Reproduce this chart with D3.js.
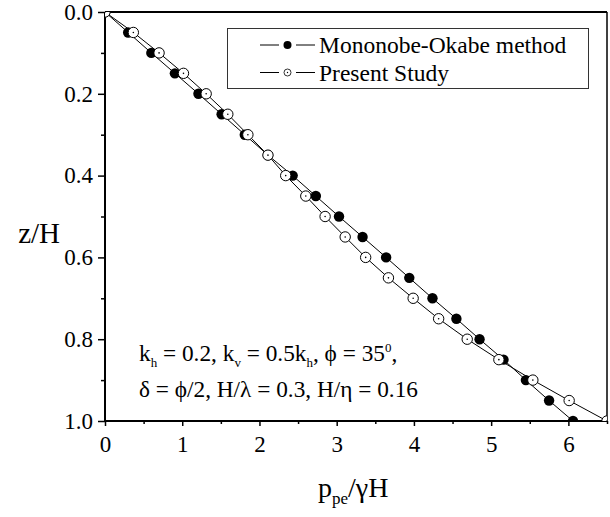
<!DOCTYPE html>
<html>
<head>
<meta charset="utf-8">
<script src="https://cdn.jsdelivr.net/npm/d3@7"></script>
<style>
  body { margin: 0; background: #fff; }
  svg { display: block; }
  svg text { font-family: "Liberation Serif", "DejaVu Serif", serif; }
</style>
</head>
<body>
<div id="main"></div>
<script>
'use strict';

// depth ratio z/H (same for both series)
var zLevels = [0, 0.05, 0.1, 0.15, 0.2, 0.25, 0.3, 0.35, 0.4, 0.45, 0.5,
               0.55, 0.6, 0.65, 0.7, 0.75, 0.8, 0.85, 0.9, 0.95, 1.0];

// p_pe / gamma H
var moValues = [0, 0.30, 0.60, 0.905, 1.21, 1.51, 1.81, 2.11, 2.43, 2.73, 3.03,
                3.335, 3.64, 3.94, 4.24, 4.55, 4.85, 5.16, 5.45, 5.75, 6.06];
var psValues = [0, 0.367, 0.70, 1.016, 1.31, 1.59, 1.85, 2.11, 2.34, 2.60, 2.85,
                3.11, 3.375, 3.67, 3.99, 4.32, 4.69, 5.10, 5.54, 6.01, 6.5];

var seriesNames = ['Mononobe-Okabe method', 'Present Study'];

var xMajor = [0, 1, 2, 3, 4, 5, 6];
var xMinor = [0.5, 1.5, 2.5, 3.5, 4.5, 5.5, 6.5];
var yMajor = [0, 0.2, 0.4, 0.6, 0.8, 1.0];
var yMinor = [0.1, 0.3, 0.5, 0.7, 0.9];

var width = 610, height = 517;
var m = { left: 105, right: 3, top: 12, bottom: 96 };

var svg = d3.select('#main').append('svg')
  .attr('width', width).attr('height', height);

var x = d3.scaleLinear().domain([0, 6.5]).range([m.left, width - m.right]);
var y = d3.scaleLinear().domain([0, 1]).range([m.top, height - m.bottom]);

svg.append('clipPath').attr('id', 'plotClip')
  .append('rect')
  .attr('x', x(0)).attr('y', y(0))
  .attr('width', x(6.5) - x(0)).attr('height', y(1) - y(0));

// axes with outward ticks
svg.append('g').attr('class', 'axis').attr('transform', 'translate(0,' + y(1) + ')')
  .call(d3.axisBottom(x).tickValues(xMajor).tickSize(5).tickPadding(10)
    .tickFormat(d3.format('d')));
svg.append('g').attr('class', 'axis').attr('transform', 'translate(0,' + y(1) + ')')
  .call(d3.axisBottom(x).tickValues(xMinor).tickSize(3).tickFormat(''));

svg.append('g').attr('class', 'axis').attr('transform', 'translate(' + x(0) + ',0)')
  .call(d3.axisLeft(y).tickValues(yMajor).tickSize(7).tickPadding(5)
    .tickFormat(d3.format('.1f')));
svg.append('g').attr('class', 'axis').attr('transform', 'translate(' + x(0) + ',0)')
  .call(d3.axisLeft(y).tickValues(yMinor).tickSize(4).tickFormat(''));

svg.selectAll('.axis')
  .attr('font-family', '"Liberation Serif", serif')
  .attr('font-size', 23);
svg.selectAll('.domain').remove();
svg.selectAll('.tick line').attr('stroke', '#000').attr('stroke-width', 1.5);
svg.selectAll('.tick text').attr('fill', '#000');

// frame
var frame = svg.append('g').attr('stroke', '#000').attr('fill', 'none');
frame.append('line').attr('x1', x(0)).attr('x2', x(6.5)).attr('y1', y(0)).attr('y2', y(0)).attr('stroke-width', 2);
frame.append('line').attr('x1', x(6.5)).attr('x2', x(6.5)).attr('y1', y(0)).attr('y2', y(1)).attr('stroke-width', 1.5);
frame.append('line').attr('x1', x(0)).attr('x2', x(6.5)).attr('y1', y(1)).attr('y2', y(1)).attr('stroke-width', 2);
frame.append('line').attr('x1', x(0)).attr('x2', x(0)).attr('y1', y(0)).attr('y2', y(1)).attr('stroke-width', 2);

// series
var line = d3.line()
  .x(function(d) { return x(d.v); })
  .y(function(d) { return y(d.z); });

function toPoints(values) {
  return values.map(function(v, i) { return { v: v, z: zLevels[i] }; });
}

var mo = toPoints(moValues);
var ps = toPoints(psValues);

var plot = svg.append('g').attr('clip-path', 'url(#plotClip)');

plot.append('path').datum(mo).attr('d', line)
  .attr('fill', 'none').attr('stroke', '#000').attr('stroke-width', 1);
plot.append('path').datum(ps).attr('d', line)
  .attr('fill', 'none').attr('stroke', '#000').attr('stroke-width', 1);

plot.selectAll('.mo').data(mo).enter().append('circle')
  .attr('class', 'mo')
  .attr('cx', function(d) { return x(d.v); })
  .attr('cy', function(d) { return y(d.z); })
  .attr('r', 5.2).attr('fill', '#000');

var psMarks = plot.selectAll('.ps').data(ps).enter().append('g')
  .attr('class', 'ps')
  .attr('transform', function(d) { return 'translate(' + x(d.v) + ',' + y(d.z) + ')'; });
psMarks.append('circle').attr('r', 5.2).attr('fill', '#fff').attr('stroke', '#000').attr('stroke-width', 1);
psMarks.append('circle').attr('r', 0.8).attr('fill', '#000');

// legend
var legend = svg.append('g');
legend.append('rect')
  .attr('x', 227.5).attr('y', 28.5).attr('width', 361).attr('height', 60)
  .attr('fill', '#fff').attr('stroke', '#333').attr('stroke-width', 1);

seriesNames.forEach(function(name, i) {
  var cy = 45 + i * 27.5;
  var row = legend.append('g');
  row.append('line').attr('x1', 260).attr('x2', 279).attr('y1', cy).attr('y2', cy).attr('stroke', '#000');
  row.append('line').attr('x1', 296).attr('x2', 315).attr('y1', cy).attr('y2', cy).attr('stroke', '#000');
  if (i === 0) {
    row.append('circle').attr('cx', 287.5).attr('cy', cy).attr('r', 4).attr('fill', '#000');
  } else {
    row.append('circle').attr('cx', 287.5).attr('cy', cy).attr('r', 3.5)
      .attr('fill', '#fff').attr('stroke', '#000').attr('stroke-width', 0.8);
    row.append('circle').attr('cx', 287.5).attr('cy', cy).attr('r', 0.7).attr('fill', '#000');
  }
  row.append('text').attr('x', 319).attr('y', cy + 8)
    .style('font-size', '23.5px').text(name);
});

// parameter note
var note = svg.append('g').style('font-size', '23.3px');
var t1 = note.append('text').attr('x', 139).attr('y', 361);
t1.append('tspan').text('k');
t1.append('tspan').attr('dy', 6).style('font-size', '13px').text('h');
t1.append('tspan').attr('dy', -6).text(' = 0.2, k');
t1.append('tspan').attr('dy', 6).style('font-size', '13px').text('v');
t1.append('tspan').attr('dy', -6).text(' = 0.5k');
t1.append('tspan').attr('dy', 6).style('font-size', '13px').text('h');
t1.append('tspan').attr('dy', -6).text(', \u03d5 = 35');
t1.append('tspan').attr('dy', -9).style('font-size', '13px').text('0');
t1.append('tspan').attr('dy', 9).text(',');

note.append('text').attr('x', 139).attr('y', 397)
  .text('\u03b4 = \u03d5/2, H/\u03bb = 0.3, H/\u03b7 = 0.16');

// axis titles
svg.append('text').attr('x', 60).attr('y', 243).attr('text-anchor', 'end')
  .style('font-size', '29px').text('z/H');

var xt = svg.append('text').attr('x', 318).attr('y', 497).style('font-size', '28px');
xt.append('tspan').text('p');
xt.append('tspan').attr('dy', 7).style('font-size', '17px').text('pe');
xt.append('tspan').attr('dy', -7).text('/\u03b3H');
</script>
</body>
</html>
